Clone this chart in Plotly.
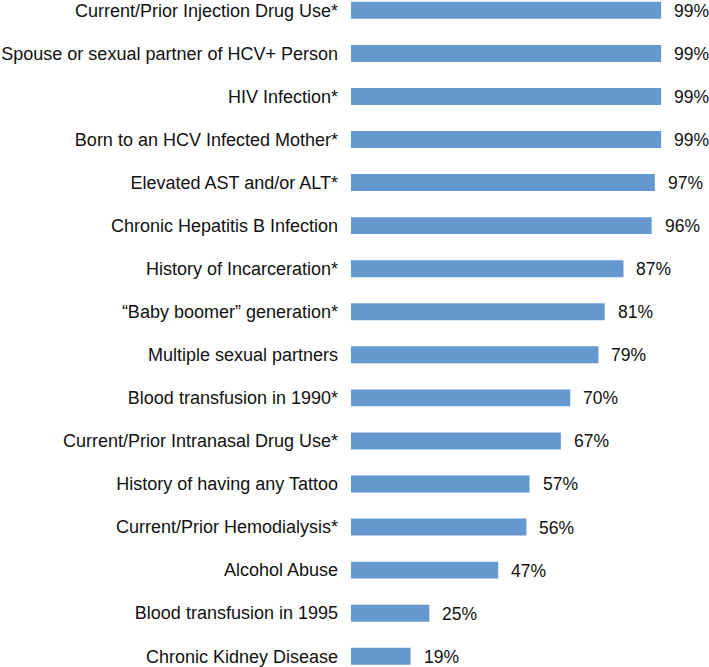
import plotly.graph_objects as go

categories = [
    "Current/Prior Injection Drug Use*",
    "Spouse or sexual partner of HCV+ Person",
    "HIV Infection*",
    "Born to an HCV Infected Mother*",
    "Elevated AST and/or ALT*",
    "Chronic Hepatitis B Infection",
    "History of Incarceration*",
    "\u201cBaby boomer\u201d generation*",
    "Multiple sexual partners",
    "Blood transfusion in 1990*",
    "Current/Prior Intranasal Drug Use*",
    "History of having any Tattoo",
    "Current/Prior Hemodialysis*",
    "Alcohol Abuse",
    "Blood transfusion in 1995",
    "Chronic Kidney Disease",
]
values = [99, 99, 99, 99, 97, 96, 87, 81, 79, 70, 67, 57, 56, 47, 25, 19]
value_labels = [f"{v}%" for v in values]

FONT = "Liberation Sans, Arial, sans-serif"

fig = go.Figure()
fig.add_trace(go.Bar(
    x=values,
    y=categories,
    orientation="h",
    marker=dict(color="#6498CE", line=dict(width=0)),
    hoverinfo="skip",
))

for c, v, t in zip(categories, values, value_labels):
    fig.add_annotation(
        x=v, y=c, text=t, showarrow=False,
        xanchor="left", yanchor="middle", xshift=12, yshift=-0.5,
        borderpad=0,
        font=dict(family=FONT, size=17.5, color="#111111"),
    )

fig.update_layout(
    width=709, height=667,
    margin=dict(l=351, r=0, t=0, b=0),
    paper_bgcolor="white", plot_bgcolor="white",
    bargap=0.606,
    showlegend=False,
    font=dict(family=FONT, size=18, color="#111111"),
    xaxis=dict(range=[0, 114.3], visible=False, fixedrange=True),
    yaxis=dict(
        range=[15.25, -0.24],
        showgrid=False, zeroline=False, showline=False,
        ticks="", ticklabelstandoff=12,
        tickfont=dict(family=FONT, size=18, color="#111111"),
        fixedrange=True,
    ),
)

fig.write_html(
    "out.html",
    config={"displayModeBar": False},
    post_script="document.body.style.margin='0';document.body.style.overflow='hidden';",
)
